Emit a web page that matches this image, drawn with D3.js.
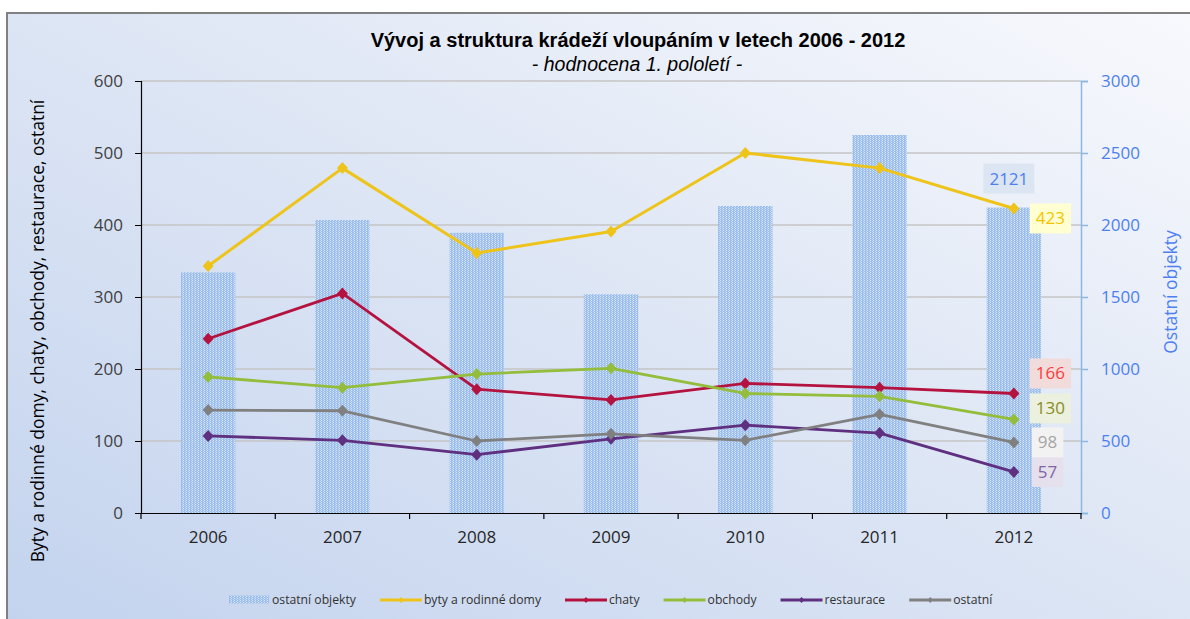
<!DOCTYPE html>
<html><head><meta charset="utf-8">
<script src="https://cdnjs.cloudflare.com/ajax/libs/d3/7.8.5/d3.min.js"></script>
<style>
html,body{margin:0;padding:0;background:#fff;}
svg{display:block;}
</style></head>
<body>
<svg id="chart" width="1190" height="619"></svg>
<script>
// ---- data ----
const years = ["2006","2007","2008","2009","2010","2011","2012"];
const ostatniObjekty = [1671, 2035, 1946, 1519, 2132, 2625, 2121];
const bytyDomy   = [343, 479, 361, 391, 500, 479, 423];
const chaty      = [242, 305, 172, 157, 180, 174, 166];
const obchody    = [189, 174, 193, 201, 166, 162, 130];
const restaurace = [107, 101, 81, 103, 122, 111, 57];
const ostatni    = [143, 142, 100, 110, 101, 137, 98];
const leftTicks  = [0, 100, 200, 300, 400, 500, 600];
const rightTicks = [0, 500, 1000, 1500, 2000, 2500, 3000];

const titleText = "Vývoj a struktura krádeží vloupáním v letech 2006 - 2012";
const subtitleText = "- hodnocena 1. pololetí -";
const leftAxisTitle = "Byty a rodinné domy, chaty, obchody, restaurace, ostatní";
const rightAxisTitle = "Ostatní objekty";
const barName = "ostatní objekty";

// styling for line series (kept apart from values)
const lineSeries = [
  {name:"byty a rodinné domy", values: bytyDomy,   color:"#eec41a", width:3,   lblFill:"#ffffd2", lblColor:"#f2c500", lblDy:10},
  {name:"chaty",               values: chaty,      color:"#b5133f", width:2.8, lblFill:"#f2dcdb", lblColor:"#ff3a3a", lblDy:-20},
  {name:"obchody",             values: obchody,    color:"#93bd3a", width:2.8, lblFill:"#ebf1de", lblColor:"#8b8b1f", lblDy:-11},
  {name:"restaurace",          values: restaurace, color:"#5f2f80", width:2.8, lblFill:"#e5e0ec", lblColor:"#8166a4", lblDy:0},
  {name:"ostatní",             values: ostatni,    color:"#808080", width:2.8, lblFill:"#f2f2f2", lblColor:"#a6a6a6", lblDy:0}
];
const legendSeriesOrder = ["byty a rodinné domy","chaty","obchody","restaurace","ostatní"];

// ---- layout ----
const W = 1190, H = 619;
const plot = {left:141, right:1081, top:81, bottom:513};
const svg = d3.select("#chart");
const defs = svg.append("defs");

const bg = defs.append("linearGradient").attr("id","bg")
  .attr("x1","0").attr("y1","1").attr("x2","1").attr("y2","0");
bg.append("stop").attr("offset","0").attr("stop-color","#c3d3ee");
bg.append("stop").attr("offset","0.55").attr("stop-color","#dfe7f5");
bg.append("stop").attr("offset","1").attr("stop-color","#f8f9fd");

const pat = defs.append("pattern").attr("id","dots").attr("patternUnits","userSpaceOnUse")
  .attr("width",3).attr("height",2);
pat.append("rect").attr("width",3).attr("height",2).attr("fill","#9bbeec");
pat.append("rect").attr("x",0).attr("y",0).attr("width",1).attr("height",1).attr("fill","#dce8f8");
pat.append("rect").attr("x",2).attr("y",1).attr("width",1).attr("height",1).attr("fill","#c4d8f4");

svg.append("rect").attr("x",7).attr("y",13).attr("width",W).attr("height",H)
  .attr("fill","url(#bg)").attr("stroke","#808080").attr("stroke-width",2);

const x = d3.scaleBand().domain(years).range([plot.left, plot.right]);
const yL = d3.scaleLinear().domain([0,600]).range([plot.bottom, plot.top]);
const yR = d3.scaleLinear().domain([0,3000]).range([plot.bottom, plot.top]);
const cx = d => x(d) + x.bandwidth()/2;

// gridlines
svg.append("g").selectAll("line").data(leftTicks.filter(t=>t>0)).join("line")
  .attr("x1",plot.left).attr("x2",plot.right)
  .attr("y1",d=>yL(d)).attr("y2",d=>yL(d))
  .attr("stroke","#c4c4c4").attr("stroke-width",1.3);

// bars
const bw = x.bandwidth()*0.405;
svg.append("g").selectAll("rect").data(years).join("rect")
  .attr("x",(d)=>cx(d)-bw/2).attr("width",bw)
  .attr("y",(d,i)=>yR(ostatniObjekty[i]))
  .attr("height",(d,i)=>plot.bottom - yR(ostatniObjekty[i]))
  .attr("fill","url(#dots)");

// axes
const fontTick = "'Open Sans', sans-serif";
const gL = svg.append("g").attr("transform",`translate(${plot.left},0)`)
  .call(d3.axisLeft(yL).tickValues(leftTicks).tickFormat(d3.format("d")).tickSize(6).tickPadding(12));
gL.select(".domain").attr("stroke","#000").attr("stroke-width",1.2);
gL.selectAll(".tick line").attr("stroke","#000");
gL.selectAll("text").attr("font-family",fontTick).attr("font-size",17).attr("fill","#404040");

const gR = svg.append("g").attr("transform",`translate(${plot.right},0)`)
  .call(d3.axisRight(yR).tickValues(rightTicks).tickFormat(d3.format("d")).tickSize(7).tickPadding(13));
gR.select(".domain").attr("stroke","#8ab8e4").attr("stroke-width",1.5);
gR.selectAll(".tick line").attr("stroke","#8ab8e4").attr("stroke-width",1.5);
gR.selectAll("text").attr("font-family",fontTick).attr("font-size",17).attr("fill","#4d7ff3");

const gX = svg.append("g").attr("transform",`translate(0,${plot.bottom})`)
  .call(d3.axisBottom(x).tickSize(0).tickPadding(18));
gX.select(".domain").attr("stroke","#000").attr("stroke-width",1.2);
gX.selectAll("text").attr("font-family",fontTick).attr("font-size",17).attr("fill","#262626");
const bounds = years.map(d=>x(d)).concat([plot.right]);
gX.append("g").selectAll("line").data(bounds).join("line")
  .attr("x1",d=>d).attr("x2",d=>d).attr("y1",0).attr("y2",6)
  .attr("stroke","#000").attr("stroke-width",1.2);

// lines
const diamond = "M0,-6L5.5,0L0,6L-5.5,0Z";
lineSeries.forEach(s=>{
  const line = d3.line().x((v,i)=>cx(years[i])).y(v=>yL(v));
  svg.append("path").datum(s.values).attr("d",line)
    .attr("fill","none").attr("stroke",s.color).attr("stroke-width",s.width)
    .attr("stroke-linejoin","round");
  svg.append("g").selectAll("path").data(s.values).join("path")
    .attr("d",diamond)
    .attr("transform",(v,i)=>`translate(${cx(years[i])},${yL(v)})`)
    .attr("fill",s.color);
});

// data labels at 2012
const last = years.length-1;
function dataLabel(txt, xl, ycenter, fill, color, anchorMiddle){
  const g = svg.append("g");
  const r = g.append("rect");
  const t = g.append("text").attr("x",xl).attr("y",ycenter).attr("dy","0.35em")
    .attr("text-anchor", anchorMiddle ? "middle" : "start")
    .attr("font-family",fontTick).attr("font-size",17).attr("fill",color).text(txt);
  const w = t.node().getComputedTextLength();
  const left = anchorMiddle ? xl - w/2 - 6 : xl - 6;
  r.attr("x",left).attr("y",ycenter-15).attr("width",w+12).attr("height",30).attr("fill",fill);
}
{
  const v = ostatniObjekty[last];
  dataLabel(String(v), cx(years[last])-5, yR(v)-29, "#dce5f2", "#4d7ff3", true);
}
lineSeries.forEach(s=>{
  const v = s.values[last];
  dataLabel(String(v), cx(years[last]) + (String(v).length>2?22:24), yL(v)+s.lblDy, s.lblFill, s.lblColor, false);
});

// titles
svg.append("text").attr("x",638).attr("y",47).attr("text-anchor","middle")
  .attr("font-family","'Liberation Sans', Arial, sans-serif").attr("font-weight","bold")
  .attr("font-size",20).attr("fill","#000").text(titleText);
svg.append("text").attr("x",637).attr("y",71).attr("text-anchor","middle")
  .attr("font-family","'Liberation Sans', Arial, sans-serif").attr("font-style","italic")
  .attr("font-size",19.5).attr("fill","#000").text(subtitleText);

svg.append("text").attr("transform","translate(44,331) rotate(-90)").attr("text-anchor","middle")
  .attr("font-family",fontTick).attr("font-size",17.5).attr("fill","#000").text(leftAxisTitle);
svg.append("text").attr("transform","translate(1177,292) rotate(-90)").attr("text-anchor","middle")
  .attr("font-family",fontTick).attr("font-size",17.5).attr("fill","#4d7ff3").text(rightAxisTitle);

// legend
const lg = svg.append("g");
const ly = 600;
let lx = 229;
const legFont = 12.2;
function legText(txt){
  const t = lg.append("text").attr("x",lx).attr("y",ly).attr("dy","0.35em")
    .attr("font-family",fontTick).attr("font-size",legFont).attr("fill","#333").text(txt);
  lx += t.node().getComputedTextLength() + 24;
}
lg.append("rect").attr("x",lx).attr("y",ly-4.5).attr("width",40).attr("height",8).attr("fill","url(#dots)");
lx += 43;
legText(barName);
legendSeriesOrder.map(n=>lineSeries.find(s=>s.name===n)).forEach(s=>{
  lg.append("line").attr("x1",lx).attr("x2",lx+42).attr("y1",ly).attr("y2",ly)
    .attr("stroke",s.color).attr("stroke-width",3);
  lg.append("path").attr("d","M0,-3L2.7,0L0,3L-2.7,0Z").attr("transform",`translate(${lx+21},${ly})`).attr("fill",s.color);
  lx += 44;
  legText(s.name);
});
</script>
</body></html>
